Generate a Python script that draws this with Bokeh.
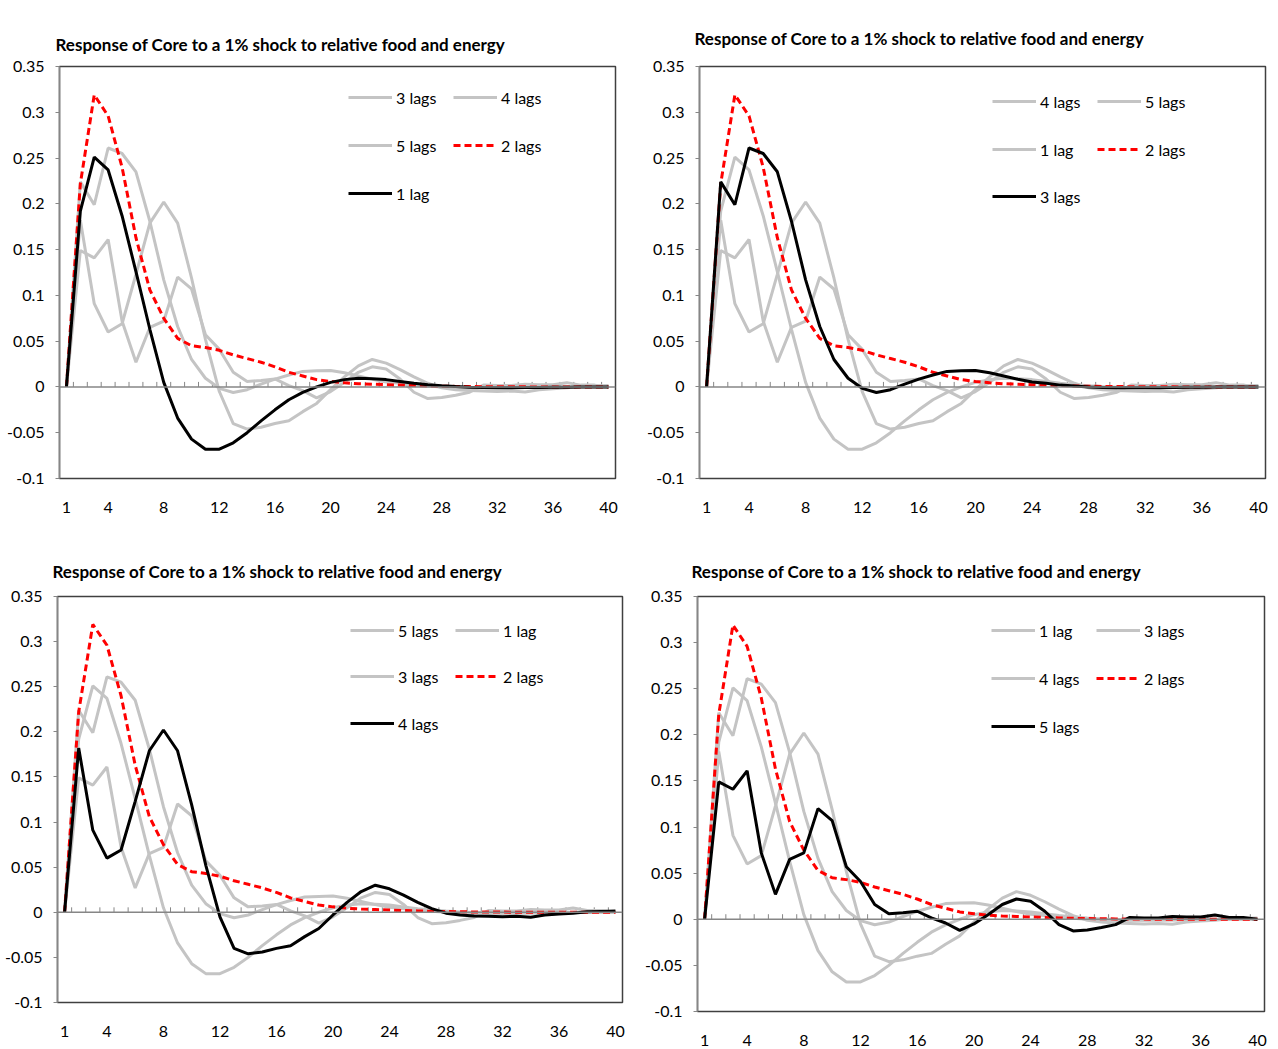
from bokeh.plotting import figure
from bokeh.models import (Range1d, FixedTicker, Span, Legend, LegendItem, LinearAxis,
                          CustomJSTickFormatter)
from bokeh.layouts import column, row
from bokeh.embed import file_html
from bokeh.resources import INLINE

horizon = list(range(1, 41))

lag1 = [0, 0.192, 0.251, 0.237, 0.187, 0.126, 0.063, 0.005, -0.034, -0.057,
        -0.068, -0.068, -0.061, -0.050, -0.037, -0.025, -0.014, -0.006, 0.000, 0.005,
        0.008, 0.0095, 0.009, 0.008, 0.006, 0.004, 0.0025, 0.0013, 0.0004, -0.0002,
        -0.0006, -0.0008, -0.0008, -0.0007, -0.0005, -0.0003, -0.0002, -0.0001, 0.0, 0.0]
lag2 = [0, 0.222, 0.319, 0.296, 0.240, 0.163, 0.106, 0.075, 0.053, 0.045,
        0.043, 0.040, 0.035, 0.031, 0.027, 0.022, 0.016, 0.012, 0.008, 0.006,
        0.0045, 0.0035, 0.003, 0.0025, 0.002, 0.0015, 0.001, 0.0008, 0.0006, 0.0004,
        0.0003, 0.0002, 0.0001, 0.0001, 0.0, 0.0, 0.0, 0.0, 0.0, 0.0]
lag3 = [0, 0.224, 0.199, 0.261, 0.255, 0.235, 0.181, 0.117, 0.066, 0.030,
        0.0095, -0.0015, -0.006, -0.003, 0.003, 0.0085, 0.013, 0.017, 0.0176, 0.018,
        0.0155, 0.012, 0.0085, 0.0055, 0.004, 0.002, 0.001, 0.0, -0.0005, -0.001,
        -0.001, -0.001, -0.0008, -0.0006, -0.0004, -0.0002, -0.0001, 0.0, 0.0, 0.0]
lag4 = [0, 0.182, 0.091, 0.060, 0.069, 0.123, 0.179, 0.202, 0.179, 0.119,
        0.052, -0.005, -0.040, -0.046, -0.044, -0.040, -0.037, -0.027, -0.018, -0.003,
        0.011, 0.023, 0.030, 0.026, 0.019, 0.011, 0.004, -0.001, -0.003, -0.004,
        -0.0045, -0.005, -0.0045, -0.0055, -0.003, -0.002, -0.001, 0.0005, 0.001, 0.0015]
lag5 = [0, 0.149, 0.141, 0.161, 0.072, 0.027, 0.065, 0.072, 0.120, 0.107,
        0.057, 0.041, 0.016, 0.006, 0.007, 0.0087, 0.0015, -0.004, -0.012, -0.005,
        0.005, 0.016, 0.022, 0.0196, 0.0087, -0.0058, -0.0127, -0.0116, -0.009, -0.0058,
        0.002, 0.0015, 0.0015, 0.003, 0.0025, 0.0025, 0.0047, 0.002, 0.002, 0.0]

series_names = ["1 lag", "2 lags", "3 lags", "4 lags", "5 lags"]
series_values = [lag1, lag2, lag3, lag4, lag5]

x_tick_values = [1, 4, 8, 12, 16, 20, 24, 28, 32, 36, 40]
y_tick_values = [-0.1, -0.05, 0.0, 0.05, 0.1, 0.15, 0.2, 0.25, 0.3, 0.35]

title_text = "Response of Core to a 1% shock to relative food and energy"

FONT = "Lato"
GREY = "#C4C4C4"
AXIS_GREY = "#868686"

panels = [
    dict(black="1 lag", rows=[["3 lags", "4 lags"], ["5 lags", "2 lags"], ["1 lag"]],
         left=59, top=66, fw=556, fh=412, right=25, bottom=52, lx=289, ly=[31, 79, 127],
         tx=-4, gap=20),
    dict(black="3 lags", rows=[["4 lags", "5 lags"], ["1 lag", "2 lags"], ["3 lags"]],
         left=59, top=66, fw=566, fh=412, right=13, bottom=52, lx=293, ly=[35, 83, 130],
         tx=-5, gap=32),
    dict(black="4 lags", rows=[["5 lags", "1 lag"], ["3 lags", "2 lags"], ["4 lags"]],
         left=57, top=66, fw=565, fh=406, right=18, bottom=47, lx=293, ly=[34, 80, 127],
         tx=-5, gap=26),
    dict(black="5 lags", rows=[["1 lag", "3 lags"], ["4 lags", "2 lags"], ["5 lags"]],
         left=57, top=66, fw=567, fh=415, right=14, bottom=38, lx=294, ly=[34, 82, 130],
         tx=-6, gap=26),
]


def make_panel(cfg):
    p = figure(frame_width=cfg["fw"], frame_height=cfg["fh"],
               width=cfg["left"] + cfg["fw"] + cfg["right"],
               height=cfg["top"] + cfg["fh"] + cfg["bottom"],
               min_border_left=cfg["left"], min_border_right=cfg["right"],
               min_border_top=cfg["top"], min_border_bottom=cfg["bottom"],
               x_range=Range1d(0.5, 40.5), y_range=Range1d(-0.1, 0.35),
               output_backend="svg", toolbar_location=None,
               x_axis_type=None, y_axis_type=None, title=title_text)
    p.xgrid.visible = False
    p.ygrid.visible = False
    p.outline_line_color = "#404040"
    p.outline_line_width = 1.5
    p.background_fill_color = "white"
    p.border_fill_color = "white"

    p.title.text_font = FONT
    p.title.text_font_style = "bold"
    p.title.text_font_size = "17px"
    p.title.text_color = "#000000"
    p.title.vertical_align = "top"
    p.title.standoff = cfg["gap"]
    p.title.align = "left"
    p.title.offset = cfg["tx"]

    yax = LinearAxis(ticker=FixedTicker(ticks=y_tick_values),
                     formatter=CustomJSTickFormatter(code="""
                        var s = tick.toFixed(2).replace(/0+$/, '').replace(/\\.$/, '');
                        if (s === '-0') { s = '0'; }
                        return s;"""))
    yax.axis_line_color = AXIS_GREY
    yax.axis_line_width = 1.5
    yax.major_tick_line_color = AXIS_GREY
    yax.major_tick_out = 4
    yax.major_tick_in = 0
    yax.minor_tick_line_color = None
    yax.major_label_standoff = 11
    yax.major_label_text_font = FONT
    yax.major_label_text_font_size = "16px"
    yax.major_label_text_color = "#000000"
    p.add_layout(yax, "left")

    xax = LinearAxis(ticker=FixedTicker(ticks=x_tick_values))
    xax.axis_line_color = None
    xax.major_tick_line_color = None
    xax.minor_tick_line_color = None
    xax.major_label_standoff = 17
    xax.major_label_text_font = FONT
    xax.major_label_text_font_size = "16px"
    xax.major_label_text_color = "#000000"
    p.add_layout(xax, "below")

    # zero line with category tick marks
    p.add_layout(Span(location=0, dimension="width", line_color=AXIS_GREY, line_width=1.5))
    bounds = [h + 0.5 for h in horizon[:-1]]
    p.segment(x0=bounds, y0=[0] * len(bounds), x1=bounds, y1=[0.0055] * len(bounds),
              line_color=AXIS_GREY, line_width=1)

    renderers = {}
    for name, vals in zip(series_names, series_values):
        if name == cfg["black"] or name == "2 lags":
            continue
        renderers[name] = p.line(horizon, vals, line_color=GREY, line_width=3)
    renderers["2 lags"] = p.line(horizon, lag2, line_color="#FF0000", line_width=3,
                                 line_dash="7 4")
    bv = series_values[series_names.index(cfg["black"])]
    renderers[cfg["black"]] = p.line(horizon, bv, line_color="#000000", line_width=3)

    for names, r in zip(cfg["rows"], cfg["ly"]):
        leg = Legend(items=[LegendItem(label=n, renderers=[renderers[n]]) for n in names],
                     orientation="horizontal",
                     location=(cfg["lx"], cfg["fh"] - r - 10),
                     glyph_width=44, glyph_height=20, label_width=57, label_height=20,
                     label_standoff=4, spacing=0, padding=0, margin=0,
                     border_line_alpha=0, background_fill_alpha=0,
                     label_text_font=FONT, label_text_font_size="16px",
                     label_text_color="#000000")
        p.add_layout(leg)
    return p


figs = [make_panel(c) for c in panels]
layout = column(row(figs[0], figs[1]), row(figs[2], figs[3]))
open("out.html", "w").write(file_html(layout, INLINE))
